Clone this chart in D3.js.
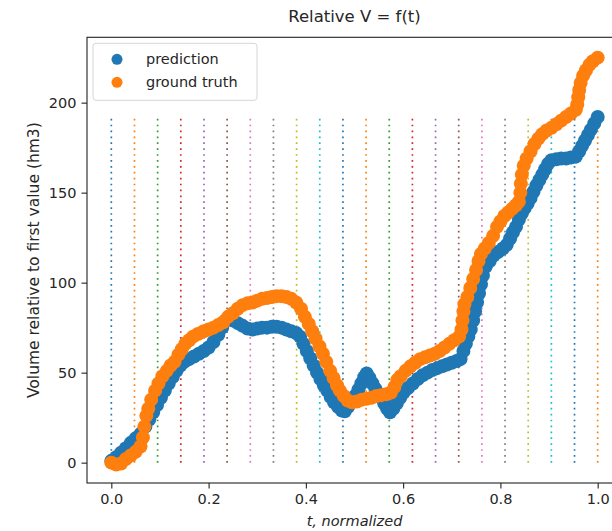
<!DOCTYPE html>
<html>
<head>
<meta charset="utf-8">
<script src="https://cdn.jsdelivr.net/npm/d3@7"></script>
<style>
    body { margin: 0; background: #fff; }
    text { font-family: "DejaVu Sans", sans-serif; fill: #262626; }
</style>
</head>
<body>
<div id="chart"></div>
<script>
// values
const predT = [0.000, 0.010, 0.020, 0.030, 0.040, 0.050, 0.060, 0.070, 0.078, 0.086, 0.094, 0.102, 0.110, 0.118, 0.126, 0.134, 0.142, 0.150, 0.160, 0.170, 0.180, 0.190, 0.200, 0.210, 0.220, 0.228, 0.235, 0.242, 0.250, 0.260, 0.270, 0.280, 0.290, 0.300, 0.310, 0.320, 0.330, 0.340, 0.350, 0.360, 0.370, 0.380, 0.388, 0.395, 0.402, 0.409, 0.416, 0.423, 0.430, 0.437, 0.444, 0.451, 0.458, 0.466, 0.474, 0.480, 0.487, 0.494, 0.501, 0.508, 0.514, 0.520, 0.525, 0.531, 0.537, 0.543, 0.549, 0.555, 0.561, 0.567, 0.573, 0.580, 0.587, 0.594, 0.601, 0.610, 0.620, 0.630, 0.640, 0.650, 0.660, 0.670, 0.680, 0.690, 0.700, 0.710, 0.718, 0.724, 0.729, 0.734, 0.739, 0.744, 0.748, 0.752, 0.756, 0.760, 0.764, 0.770, 0.778, 0.786, 0.795, 0.805, 0.813, 0.820, 0.826, 0.832, 0.838, 0.844, 0.850, 0.856, 0.862, 0.868, 0.874, 0.880, 0.886, 0.892, 0.898, 0.905, 0.915, 0.925, 0.935, 0.945, 0.955, 0.962, 0.968, 0.974, 0.980, 0.986, 0.993, 1.000];
const predV = [1, 3, 5.5, 8, 11, 13.5, 16, 20, 24, 28, 32, 36, 40, 44, 47.5, 51, 54, 56, 57.5, 59, 60.5, 62, 64, 67, 71, 75, 79, 81, 79, 77.5, 76, 74.5, 74, 74.5, 75, 75, 75.5, 75.5, 75, 74, 73, 72, 70, 66, 62, 58, 54, 50, 46.5, 43, 40, 36.5, 33.5, 31, 29, 28.5, 31, 34, 37, 40.5, 44, 47.5, 49.5, 47, 44, 41, 38.5, 36, 33, 30, 28, 30, 33, 36, 39, 41.5, 44, 46.5, 48.5, 50, 51.5, 52.5, 53.5, 54.5, 55.5, 56.5, 57.5, 62, 66, 70, 74, 79, 84, 89, 94, 99, 104, 109, 112, 115, 117, 119, 121, 124.5, 128, 131, 135, 138.5, 141.5, 144, 147, 150.5, 154, 157, 160, 163, 166, 168, 168.5, 169, 169, 169.5, 170, 173, 176, 179, 182, 185, 188.5, 192];

const truthT = [0.000, 0.010, 0.020, 0.030, 0.040, 0.050, 0.060, 0.065, 0.068, 0.072, 0.076, 0.082, 0.090, 0.097, 0.105, 0.114, 0.122, 0.130, 0.138, 0.145, 0.152, 0.160, 0.168, 0.178, 0.190, 0.200, 0.210, 0.220, 0.230, 0.240, 0.250, 0.260, 0.270, 0.280, 0.290, 0.300, 0.310, 0.320, 0.330, 0.340, 0.350, 0.360, 0.370, 0.380, 0.390, 0.398, 0.406, 0.413, 0.420, 0.428, 0.435, 0.442, 0.450, 0.457, 0.464, 0.470, 0.478, 0.486, 0.495, 0.505, 0.515, 0.525, 0.535, 0.545, 0.555, 0.565, 0.575, 0.582, 0.588, 0.595, 0.605, 0.615, 0.625, 0.635, 0.645, 0.655, 0.665, 0.675, 0.685, 0.695, 0.705, 0.715, 0.720, 0.722, 0.724, 0.726, 0.732, 0.738, 0.744, 0.750, 0.755, 0.760, 0.768, 0.776, 0.785, 0.793, 0.800, 0.808, 0.816, 0.824, 0.832, 0.838, 0.841, 0.842, 0.844, 0.848, 0.854, 0.862, 0.870, 0.878, 0.886, 0.895, 0.905, 0.915, 0.925, 0.935, 0.945, 0.955, 0.958, 0.960, 0.962, 0.965, 0.970, 0.976, 0.983, 0.990, 1.000];
const truthV = [0, -1, -0.5, 2, 4, 6, 9, 14, 20, 26, 30, 35, 40, 44, 48, 51, 54, 56, 60, 63, 66, 68, 70, 71.5, 73, 74, 75, 76.5, 78, 81, 83, 85.5, 87.5, 88.5, 89, 90, 91, 91.5, 92, 92.5, 92.5, 92, 91, 89, 85.5, 81, 77, 73, 69, 64.5, 60.5, 56, 51, 47, 43, 40, 37, 34.5, 33.5, 34, 35, 35.5, 36, 37, 37.5, 38, 39, 42, 46, 48, 51, 53.5, 55.5, 57.5, 58.5, 59.5, 60.5, 62, 64, 66, 68, 70, 74, 79, 84, 88, 92, 97, 102, 107, 112, 116, 119, 122, 126, 131, 134, 137, 139, 141, 143, 145, 150, 155, 160, 165, 169, 173, 177, 180, 182.5, 184.5, 186, 188, 190, 192, 194, 196, 199, 203, 207, 211, 215, 218, 221, 223, 225];

// vertical dotted markers
const splitT = d3.range(22).map(i => i / 21);
const splitTop = 192;

const xTicks = [0, 0.2, 0.4, 0.6, 0.8, 1.0];
const yTicks = [0, 50, 100, 150, 200];
const tab10 = ["#1f77b4", "#ff7f0e", "#2ca02c", "#d62728", "#9467bd", "#8c564b", "#e377c2", "#7f7f7f", "#bcbd22", "#17becf"];

const width = 612;
const height = 531;
const plot = { left: 87, right: 622, top: 37.3, bottom: 483 };
const markerR = 7;
const fontSize = "14.5px";

const svg = d3
    .select("#chart")
    .append("svg")
    .attr("width", width)
    .attr("height", height);

const x = d3.scaleLinear().domain([-0.05, 1.05]).range([plot.left, plot.right]);
const y = d3.scaleLinear().domain([-11.3, 236.3]).range([plot.bottom, plot.top]);

svg.append("clipPath")
    .attr("id", "clip")
    .append("rect")
    .attr("x", plot.left)
    .attr("y", plot.top)
    .attr("width", plot.right - plot.left)
    .attr("height", plot.bottom - plot.top);

const inner = svg.append("g").attr("clip-path", "url(#clip)");

inner.selectAll("line.split")
    .data(splitT)
    .enter()
    .append("line")
    .attr("class", "split")
    .attr("x1", d => x(d))
    .attr("x2", d => x(d))
    .attr("y1", y(0))
    .attr("y2", y(splitTop))
    .attr("stroke", (d, i) => tab10[i % 10])
    .attr("stroke-width", 1.7)
    .attr("stroke-dasharray", "1.7,4.2");

const pred = predT.map((t, i) => ({ t, v: predV[i] }));
const truth = truthT.map((t, i) => ({ t, v: truthV[i] }));

inner.append("g")
    .selectAll("circle")
    .data(pred)
    .enter()
    .append("circle")
    .attr("cx", d => x(d.t))
    .attr("cy", d => y(d.v))
    .attr("r", markerR)
    .attr("fill", tab10[0]);

inner.append("g")
    .selectAll("circle")
    .data(truth)
    .enter()
    .append("circle")
    .attr("cx", d => x(d.t))
    .attr("cy", d => y(d.v))
    .attr("r", markerR)
    .attr("fill", tab10[1]);

// axes
const xAxis = d3.axisBottom(x).tickValues(xTicks).tickFormat(d3.format(".1f")).tickSize(5.5).tickPadding(5);
const yAxis = d3.axisLeft(y).tickValues(yTicks).tickSize(5.5).tickPadding(5);

const gx = svg.append("g")
    .attr("transform", `translate(0, ${plot.bottom})`)
    .call(xAxis);
const gy = svg.append("g")
    .attr("transform", `translate(${plot.left}, 0)`)
    .call(yAxis);

[gx, gy].forEach(g => {
    g.select(".domain").remove();
    g.selectAll(".tick line").attr("stroke", "#222").attr("stroke-width", 1.1);
    g.selectAll(".tick text")
        .attr("fill", "#262626")
        .style("font-family", "DejaVu Sans")
        .style("font-size", fontSize);
});

// spines
svg.append("rect")
    .attr("x", plot.left)
    .attr("y", plot.top)
    .attr("width", plot.right - plot.left)
    .attr("height", plot.bottom - plot.top)
    .attr("fill", "none")
    .attr("stroke", "#222")
    .attr("stroke-width", 1.1);

svg.append("text")
    .attr("x", (plot.left + plot.right) / 2)
    .attr("y", 22)
    .attr("text-anchor", "middle")
    .style("font-size", "16.5px")
    .text("Relative V = f(t)");

svg.append("text")
    .attr("x", (plot.left + plot.right) / 2)
    .attr("y", 526)
    .attr("text-anchor", "middle")
    .style("font-size", "14.5px")
    .style("font-style", "italic")
    .text("t, normalized");

svg.append("text")
    .attr("transform", `translate(39, ${(plot.top + plot.bottom) / 2}) rotate(-90)`)
    .attr("text-anchor", "middle")
    .style("font-size", "15.5px")
    .text("Volume relative to first value (hm3)");

// legend
const legendItems = ["prediction", "ground truth"];
const legend = svg.append("g").attr("transform", `translate(${plot.left + 6}, ${plot.top + 6})`);

legend.append("rect")
    .attr("width", 164)
    .attr("height", 57)
    .attr("rx", 3)
    .attr("fill", "#fff")
    .attr("fill-opacity", 0.8)
    .attr("stroke", "#d6d6d6");

legend.selectAll("circle")
    .data(legendItems)
    .enter()
    .append("circle")
    .attr("cx", 24)
    .attr("cy", (d, i) => 16 + i * 23)
    .attr("r", 5.5)
    .attr("fill", (d, i) => tab10[i]);

legend.selectAll("text")
    .data(legendItems)
    .enter()
    .append("text")
    .attr("x", 53)
    .attr("y", (d, i) => 16 + i * 23)
    .attr("dy", "0.35em")
    .style("font-size", fontSize)
    .text(d => d);
</script>
</body>
</html>
